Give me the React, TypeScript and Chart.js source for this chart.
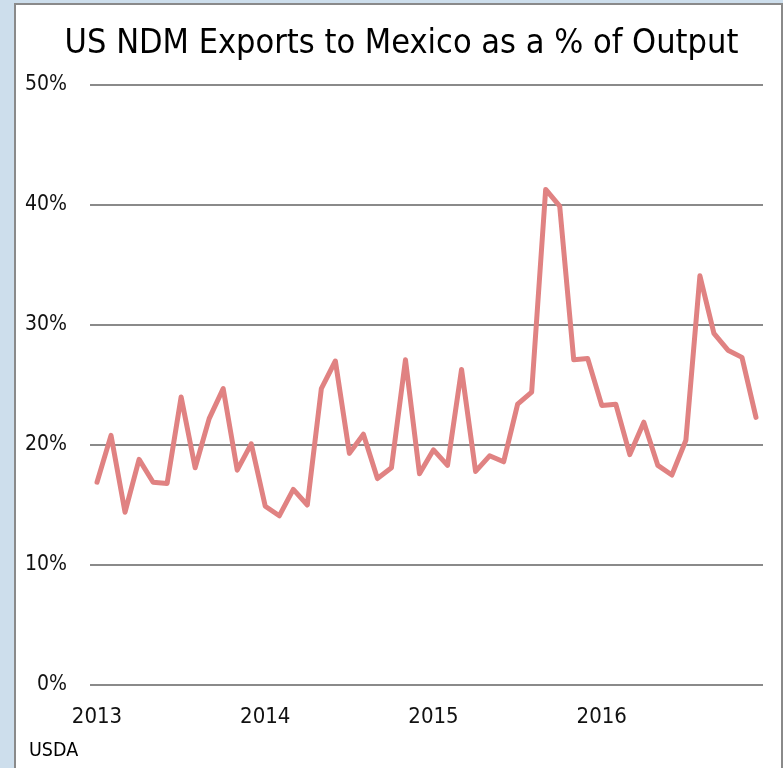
import React, { useEffect, useRef } from "react";
import { Chart, registerables } from "chart.js";

Chart.register(...registerables);

const titleText = "US NDM Exports to Mexico as a % of Output";
const sourceText = "USDA";
const years = ["2013", "2014", "2015", "2016"];
const monthNames = ["Jan", "Feb", "Mar", "Apr", "May", "Jun", "Jul", "Aug", "Sep", "Oct", "Nov", "Dec"];
const categories = years.flatMap((y) => monthNames.map((m) => `${m} ${y}`));

const exportShare = [
  16.9, 20.8, 14.4, 18.8, 16.9, 16.8, 24.0, 18.1, 22.2, 24.7, 17.9, 20.1,
  14.9, 14.1, 16.3, 15.0, 24.7, 27.0, 19.3, 20.9, 17.2, 18.1, 27.1, 17.6,
  19.6, 18.3, 26.3, 17.8, 19.1, 18.6, 23.4, 24.4, 41.3, 39.9, 27.1, 27.2,
  23.3, 23.4, 19.2, 21.9, 18.3, 17.5, 20.4, 34.1, 29.3, 27.9, 27.3, 22.3,
];

const yTicks = [0, 10, 20, 30, 40, 50];

const FONT = '"DejaVu Sans Condensed", "Liberation Sans Narrow", "Liberation Sans", sans-serif';

export default function App() {
  const canvasRef = useRef<HTMLCanvasElement | null>(null);

  useEffect(() => {
    if (!canvasRef.current) return;
    const chart = new Chart(canvasRef.current, {
      type: "line",
      data: {
        labels: categories,
        datasets: [
          {
            data: exportShare,
            borderColor: "#e08282",
            borderWidth: 5,
            pointRadius: 0,
            tension: 0,
            borderJoinStyle: "round",
            borderCapStyle: "round",
            fill: false,
          },
        ],
      },
      options: {
        animation: false,
        responsive: true,
        maintainAspectRatio: false,
        layout: { padding: { top: 85, right: 20, left: 0, bottom: 0 } },
        plugins: { legend: { display: false }, title: { display: false }, tooltip: { enabled: false } },
        scales: {
          x: {
            offset: true,
            grid: { display: false, drawTicks: false },
            border: { display: false },
            ticks: {
              autoSkip: false,
              maxRotation: 0,
              minRotation: 0,
              padding: 19,
              color: "#111",
              font: { family: FONT, size: 22 },
              callback: (_v: any, i: number) => (i % 12 === 0 ? years[i / 12] : ""),
            },
            afterFit: (s: any) => {
              s.height = 83;
            },
          },
          y: {
            min: yTicks[0],
            max: yTicks[yTicks.length - 1],
            grid: { color: "#8a8a8a", lineWidth: 2, drawTicks: false },
            border: { display: false },
            afterBuildTicks: (s: any) => {
              s.ticks = yTicks.map((v) => ({ value: v }));
            },
            ticks: {
              padding: 23,
              color: "#111",
              font: { family: FONT, size: 21 },
              callback: (v: any) => `${v}%`,
            },
            afterFit: (s: any) => {
              s.width = 90;
            },
          },
        },
      },
    });
    return () => chart.destroy();
  }, []);

  return (
    <div style={{ position: "fixed", left: 0, top: 0, width: 783, height: 768, background: "#cddeec", overflow: "hidden" }}>
      <div
        style={{
          position: "absolute",
          left: 14,
          top: 3,
          width: 765,
          height: 800,
          background: "#ffffff",
          borderLeft: "2px solid #8a8a8a",
          borderTop: "2px solid #8a8a8a",
          borderRight: "2px solid #8a8a8a",
        }}
      />
      <div style={{ position: "absolute", left: 0, top: 0, width: 783, height: 768 }}>
        <canvas ref={canvasRef} />
      </div>
      <div
        style={{
          position: "absolute",
          left: 0,
          width: 803,
          top: 24,
          textAlign: "center",
          fontFamily: FONT,
          fontSize: 34,
          lineHeight: "34px",
          color: "#000",
          whiteSpace: "nowrap",
        }}
      >
        {titleText}
      </div>
      <div
        style={{
          position: "absolute",
          left: 29,
          top: 740,
          fontFamily: FONT,
          fontSize: 19.5,
          lineHeight: "20px",
          color: "#000",
        }}
      >
        {sourceText}
      </div>
    </div>
  );
}
